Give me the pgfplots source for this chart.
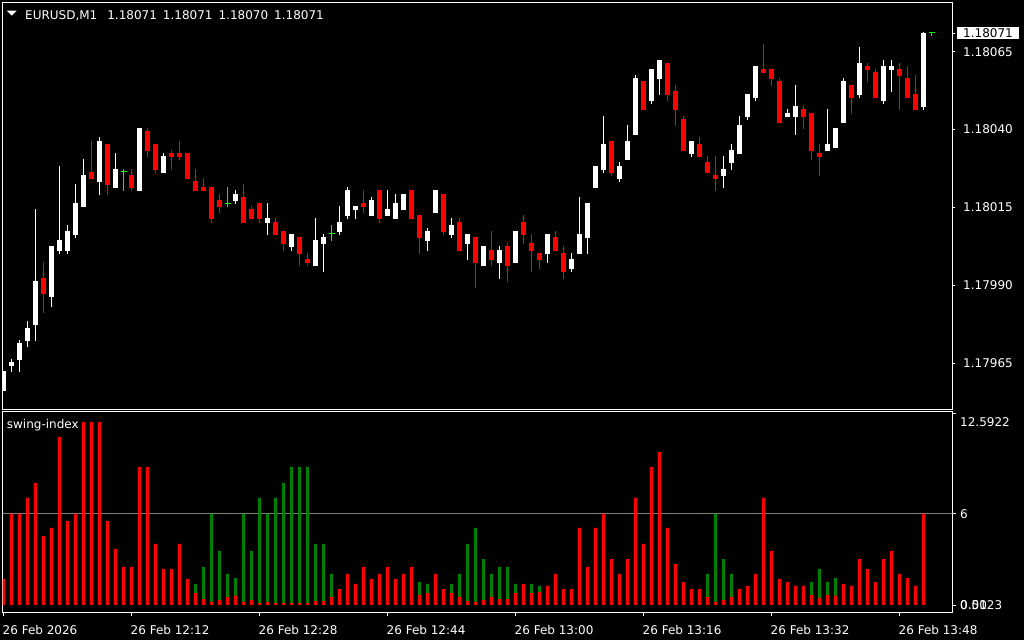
\documentclass[border=0pt]{standalone}
\usepackage{pgfplots}
\pgfplotsset{compat=1.18}
\usepackage{xfp}
\usepackage{fontspec}
\setmainfont{DejaVu Sans}
\definecolor{mtred}{RGB}{255,0,0}
\definecolor{mtgreen}{RGB}{0,128,0}
\definecolor{mtlime}{RGB}{0,255,0}
\definecolor{mtgrey}{RGB}{128,128,128}
\newcommand\mtfont{\fontsize{12pt}{14.4pt}\selectfont}
% exact decimal transformation of prices (1.18xxxx) to points above 1.18
\ExplSyntaxOn
\tl_new:N \l_mt_tl
\cs_new_protected:Npn \mttrafo #1
  {
    \tl_set:Nx \l_mt_tl {#1}
    \str_if_in:NnT \l_mt_tl {Y}
      {
        \exp_args:NV \pgfmathfloattosci \l_mt_tl
        \tl_set_eq:NN \l_mt_tl \pgfmathresult
      }
    \str_if_in:NnTF \l_mt_tl {n}
      { \tl_set:Nn \pgfmathresult {nan} }
      { \tl_set:Nx \pgfmathresult { \fp_eval:n { ( \l_mt_tl - 1.18 ) * 100000 } } }
  }
\ExplSyntaxOff
\begin{document}
\begin{tikzpicture}[font=\mtfont]
\fill[black] (0pt,0pt) rectangle (1024pt,640pt);
\useasboundingbox (0pt,0pt) rectangle (1024pt,640pt);
% ---------------- price panel ----------------
\begin{axis}[
  at={(2.7pt,230.7pt)}, anchor=south west, scale only axis,
  width=949.6pt, height=406.6pt,
  xmin=-0.1, xmax=118.6,
  y coord trafo/.code={\mttrafo{#1}},
  ymin=1.1795024, ymax=1.1808072,
  axis line style={white, line width=0.8pt},
  xtick=\empty,
  ytick={1.17965,1.1799,1.18015,1.1804,1.18065},
  yticklabels={1.17965,1.17990,1.18015,1.18040,1.18065},
  ytick pos=right, yticklabel pos=right,
  tick align=outside, major tick length=3pt,
  tick style={white, line width=0.8pt},
  yticklabel style={text=white, anchor=west, inner sep=0pt, xshift=7.7pt},
  extra y ticks={1.18071}, extra y tick labels={1.18071},
  extra y tick style={yticklabel style={fill=white, text=black, inner xsep=6pt, inner ysep=1pt, xshift=-6pt}},
  unbounded coords=jump,
]
% bullish wicks
\addplot[white, line width=1pt] coordinates {
(0,1.179561)(0,1.179625)(0,nan)(1,1.179622)(1,1.179664)(1,nan)(2,1.179622)(2,1.179725)(2,nan)
(3,1.179702)(3,1.179786)(3,nan)(4,1.179722)(4,1.180145)(4,nan)(6,1.179831)(6,1.180026)(6,nan)
(7,1.180001)(7,1.180283)(7,nan)(8,1.180001)(8,1.180094)(8,nan)(9,1.180052)(9,1.180225)(9,nan)
(10,1.180152)(10,1.180306)(10,nan)(12,1.180190)(12,1.180376)(12,nan)(14,1.180213)(14,1.180325)(14,nan)
(17,1.180203)(17,1.180405)(17,nan)(20,1.180261)(20,1.180325)(20,nan)(29,1.180161)(29,1.180206)(29,nan)
(33,1.180062)(33,1.180164)(33,nan)(36,1.180010)(36,1.180065)(36,nan)(39,1.179962)(39,1.180116)(39,nan)
(40,1.179943)(40,1.180065)(40,nan)(42,1.180062)(42,1.180155)(42,nan)(43,1.180113)(43,1.180216)(43,nan)
(44,1.180113)(44,1.180155)(44,nan)(46,1.180123)(46,1.180184)(46,nan)(48,1.180123)(48,1.180206)(48,nan)
(49,1.180113)(49,1.180193)(49,nan)(50,1.180142)(50,1.180193)(50,nan)(53,1.180010)(53,1.180084)(53,nan)
(54,1.180132)(54,1.180206)(54,nan)(56,1.180052)(56,1.180116)(56,nan)(58,1.179981)(58,1.180065)(58,nan)
(60,1.179962)(60,1.180026)(60,nan)(62,1.179920)(62,1.180026)(62,nan)(64,1.179972)(64,1.180075)(64,nan)
(68,1.179972)(68,1.180065)(68,nan)(71,1.179943)(71,1.180004)(71,nan)(72,1.180001)(72,1.180184)(72,nan)
(73,1.180001)(73,1.180164)(73,nan)(74,1.180213)(74,1.180283)(74,nan)(75,1.180261)(75,1.180444)(75,nan)
(77,1.180232)(77,1.180296)(77,nan)(78,1.180302)(78,1.180415)(78,nan)(79,1.180383)(79,1.180575)(79,nan)
(81,1.180482)(81,1.180595)(81,nan)(82,1.180511)(82,1.180623)(82,nan)(86,1.180312)(86,1.180363)(86,nan)
(90,1.180213)(90,1.180315)(90,nan)(91,1.180270)(91,1.180354)(91,nan)(92,1.180322)(92,1.180444)(92,nan)
(93,1.180431)(93,1.180514)(93,nan)(94,1.180492)(94,1.180604)(94,nan)(98,1.180440)(98,1.180466)(98,nan)
(99,1.180383)(99,1.180543)(99,nan)(103,1.180331)(103,1.180466)(103,nan)(104,1.180341)(104,1.180405)(104,nan)
(105,1.180421)(105,1.180566)(105,nan)(107,1.180501)(107,1.180665)(107,nan)(110,1.180482)(110,1.180623)(110,nan)
(111,1.180521)(111,1.180623)(111,nan)(115,1.180463)(115,1.180713)
};
% bearish wicks
\addplot[mtred, line width=1pt] coordinates {
(5,1.179811)(5,1.179975)(5,nan)(11,1.180242)(11,1.180363)(11,nan)(13,1.180190)(13,1.180354)(13,nan)
(16,1.180203)(16,1.180274)(16,nan)(18,1.180312)(18,1.180405)(18,nan)(19,1.180261)(19,1.180354)(19,nan)
(21,1.180270)(21,1.180335)(21,nan)(22,1.180302)(22,1.180363)(22,nan)(23,1.180242)(23,1.180325)(23,nan)
(24,1.180203)(24,1.180274)(24,nan)(25,1.180203)(25,1.180245)(25,nan)(26,1.180100)(26,1.180216)(26,nan)
(27,1.180132)(27,1.180193)(27,nan)(30,1.180100)(30,1.180225)(30,nan)(31,1.180113)(31,1.180155)(31,nan)
(32,1.180100)(32,1.180164)(32,nan)(34,1.180062)(34,1.180116)(34,nan)(35,1.180010)(35,1.180075)(35,nan)
(37,1.179962)(37,1.180055)(37,nan)(38,1.179962)(38,1.180004)(38,nan)(45,1.180132)(45,1.180206)(45,nan)
(47,1.180100)(47,1.180206)(47,nan)(51,1.180113)(51,1.180206)(51,nan)(52,1.180001)(52,1.180126)(52,nan)
(55,1.180062)(55,1.180193)(55,nan)(57,1.180010)(57,1.180116)(57,nan)(59,1.179892)(59,1.180055)(59,nan)
(61,1.179962)(61,1.180075)(61,nan)(63,1.179911)(63,1.180036)(63,nan)(65,1.180033)(65,1.180126)(65,nan)
(66,1.179943)(66,1.180065)(66,nan)(67,1.179953)(67,1.180004)(67,nan)(69,1.180010)(69,1.180075)(69,nan)
(70,1.179920)(70,1.180026)(70,nan)(76,1.180251)(76,1.180363)(76,nan)(80,1.180463)(80,1.180556)(80,nan)
(83,1.180492)(83,1.180614)(83,nan)(84,1.180412)(84,1.180543)(84,nan)(85,1.180331)(85,1.180444)(85,nan)
(87,1.180312)(87,1.180376)(87,nan)(88,1.180261)(88,1.180315)(88,nan)(89,1.180203)(89,1.180315)(89,nan)
(95,1.180582)(95,1.180675)(95,nan)(96,1.180540)(96,1.180595)(96,nan)(97,1.180421)(97,1.180566)(97,nan)
(100,1.180402)(100,1.180476)(100,nan)(101,1.180302)(101,1.180453)(101,nan)(102,1.180251)(102,1.180354)(102,nan)
(106,1.180450)(106,1.180543)(106,nan)(108,1.180553)(108,1.180614)(108,nan)(109,1.180501)(109,1.180595)(109,nan)
(112,1.180463)(112,1.180614)(112,nan)(113,1.180501)(113,1.180604)(113,nan)(114,1.180463)(114,1.180575)
};
% bullish bodies (open -> close)
\addplot[white, line width=5pt] coordinates {
(0,1.179561)(0,1.179625)(0,nan)(1,1.179641)(1,1.179654)(1,nan)(2,1.179661)(2,1.179715)(2,nan)
(3,1.179722)(3,1.179763)(3,nan)(4,1.179773)(4,1.179914)(4,nan)(6,1.179863)(6,1.180026)(6,nan)
(7,1.180010)(7,1.180046)(7,nan)(8,1.180010)(8,1.180075)(8,nan)(9,1.180062)(9,1.180164)(9,nan)
(10,1.180152)(10,1.180254)(10,nan)(12,1.180232)(12,1.180363)(12,nan)(14,1.180213)(14,1.180274)(14,nan)
(17,1.180203)(17,1.180405)(17,nan)(20,1.180261)(20,1.180315)(20,nan)(29,1.180171)(29,1.180193)(29,nan)
(33,1.180100)(33,1.180116)(33,nan)(36,1.180023)(36,1.180065)(36,nan)(39,1.179962)(39,1.180046)(39,nan)
(40,1.180033)(40,1.180055)(40,nan)(42,1.180071)(42,1.180104)(42,nan)(43,1.180123)(43,1.180206)(43,nan)
(44,1.180142)(44,1.180155)(44,nan)(46,1.180123)(46,1.180174)(46,nan)(48,1.180123)(48,1.180145)(48,nan)
(49,1.180113)(49,1.180164)(49,nan)(50,1.180142)(50,1.180193)(50,nan)(53,1.180043)(53,1.180075)(53,nan)
(54,1.180132)(54,1.180206)(54,nan)(56,1.180062)(56,1.180094)(56,nan)(58,1.180033)(58,1.180065)(58,nan)
(60,1.179962)(60,1.180026)(60,nan)(62,1.179972)(62,1.180014)(62,nan)(64,1.179972)(64,1.180075)(64,nan)
(68,1.180001)(68,1.180065)(68,nan)(71,1.179953)(71,1.179985)(71,nan)(72,1.180001)(72,1.180065)(72,nan)
(73,1.180052)(73,1.180164)(73,nan)(74,1.180213)(74,1.180283)(74,nan)(75,1.180270)(75,1.180354)(75,nan)
(77,1.180242)(77,1.180283)(77,nan)(78,1.180302)(78,1.180363)(78,nan)(79,1.180383)(79,1.180566)(79,nan)
(81,1.180492)(81,1.180595)(81,nan)(82,1.180562)(82,1.180623)(82,nan)(86,1.180322)(86,1.180363)(86,nan)
(90,1.180251)(90,1.180274)(90,nan)(91,1.180293)(91,1.180335)(91,nan)(92,1.180322)(92,1.180415)(92,nan)
(93,1.180440)(93,1.180514)(93,nan)(94,1.180501)(94,1.180604)(94,nan)(98,1.180440)(98,1.180453)(98,nan)
(99,1.180440)(99,1.180476)(99,nan)(103,1.180331)(103,1.180354)(103,nan)(104,1.180341)(104,1.180405)(104,nan)
(105,1.180421)(105,1.180556)(105,nan)(107,1.180511)(107,1.180614)(107,nan)(110,1.180492)(110,1.180604)(110,nan)
(111,1.180591)(111,1.180604)(111,nan)(115,1.180473)(115,1.180710)
};
% bearish bodies (open -> close)
\addplot[mtred, line width=5pt] coordinates {
(5,1.179924)(5,1.179872)(5,nan)(11,1.180264)(11,1.180242)(11,nan)(13,1.180354)(13,1.180222)(13,nan)
(16,1.180254)(16,1.180213)(16,nan)(18,1.180396)(18,1.180331)(18,nan)(19,1.180354)(19,1.180270)(19,nan)
(21,1.180325)(21,1.180312)(21,nan)(22,1.180325)(22,1.180312)(22,nan)(23,1.180325)(23,1.180242)(23,nan)
(24,1.180235)(24,1.180203)(24,nan)(25,1.180216)(25,1.180203)(25,nan)(26,1.180216)(26,1.180113)(26,nan)
(27,1.180174)(27,1.180152)(27,nan)(30,1.180184)(30,1.180100)(30,nan)(31,1.180145)(31,1.180113)(31,nan)
(32,1.180164)(32,1.180113)(32,nan)(34,1.180104)(34,1.180062)(34,nan)(35,1.180075)(35,1.180033)(35,nan)
(37,1.180055)(37,1.180001)(37,nan)(38,1.179985)(38,1.179972)(38,nan)(45,1.180164)(45,1.180152)(45,nan)
(47,1.180206)(47,1.180113)(47,nan)(51,1.180206)(51,1.180113)(51,nan)(52,1.180126)(52,1.180052)(52,nan)
(55,1.180193)(55,1.180071)(55,nan)(57,1.180104)(57,1.180010)(57,nan)(59,1.180055)(59,1.179972)(59,nan)
(61,1.180014)(61,1.179981)(61,nan)(63,1.180026)(63,1.179962)(63,nan)(65,1.180104)(65,1.180062)(65,nan)
(66,1.180036)(66,1.180010)(66,nan)(67,1.180004)(67,1.179981)(67,nan)(69,1.180055)(69,1.180010)(69,nan)
(70,1.180004)(70,1.179943)(70,nan)(76,1.180363)(76,1.180261)(76,nan)(80,1.180556)(80,1.180463)(80,nan)
(83,1.180614)(83,1.180511)(83,nan)(84,1.180524)(84,1.180463)(84,nan)(85,1.180434)(85,1.180331)(85,nan)
(87,1.180354)(87,1.180312)(87,nan)(88,1.180296)(88,1.180261)(88,nan)(89,1.180254)(89,1.180242)(89,nan)
(95,1.180595)(95,1.180582)(95,nan)(96,1.180595)(96,1.180562)(96,nan)(97,1.180556)(97,1.180421)(97,nan)
(100,1.180466)(100,1.180440)(100,nan)(101,1.180453)(101,1.180331)(101,nan)(102,1.180325)(102,1.180312)(102,nan)
(106,1.180543)(106,1.180501)(106,nan)(108,1.180604)(108,1.180591)(108,nan)(109,1.180585)(109,1.180501)(109,nan)
(112,1.180595)(112,1.180572)(112,nan)(113,1.180566)(113,1.180501)(113,nan)(114,1.180514)(114,1.180463)
};
% doji wicks
\addplot[mtlime, line width=1pt] coordinates {
(15,1.180203)(15,1.180274)(15,nan)(28,1.180152)(28,1.180216)(28,nan)
(41,1.180043)(41,1.180094)(41,nan)(116,1.180700)(116,1.180710)
};
% doji open = close
\addplot[only marks, mark=-, mark size=3pt, mark options={mtlime, line width=1pt}] coordinates {
(15,1.180264)(28,1.180164)(41,1.180065)(116,1.180710)
};
\end{axis}
% ---------------- swing index panel ----------------
\begin{axis}[
  at={(2.7pt,27.7pt)}, anchor=south west, scale only axis,
  width=949.6pt, height=200.6pt,
  xmin=-0.1, xmax=118.6, ymin=-0.48, ymax=12.70,
  axis line style={white, line width=0.8pt},
  xtick={0,16,32,48,64,80,96,112},
  xticklabels={26 Feb 2026,26 Feb 12:12,26 Feb 12:28,26 Feb 12:44,26 Feb 13:00,26 Feb 13:16,26 Feb 13:32,26 Feb 13:48},
  xtick pos=bottom,
  ytick={0,6}, yticklabels={{\rlap{0.00}0.5123},6},
  ytick pos=right, yticklabel pos=right,
  extra y ticks={12.5922}, extra y tick labels={12.5922},
  extra y tick style={yticklabel style={yshift=-9pt}},
  tick align=outside, major tick length=4pt,
  tick style={white, line width=0.8pt},
  yticklabel style={text=white, anchor=west, inner sep=0pt, xshift=3.7pt},
  xticklabel style={text=white, anchor=base west, inner sep=0pt, xshift=-1pt, yshift=-18.4pt},
]
\addplot[mtgrey, line width=1pt] coordinates {(-1,6) (120,6)};
\addplot[ybar, bar width=3pt, bar shift=0pt, fill=mtgreen, draw=none] coordinates {
(24,1.38)(25,2.50)(26,6.0)(27,3.55)(28,2.04)(29,1.77)(30,6.0)(31,3.55)(32,7.03)(33,6.0)(34,7.03)(35,8.02)
(36,9.07)(37,9.07)(38,9.07)(39,4.01)(40,4.01)(41,2.04)(52,1.51)(53,1.38)(56,1.38)(57,2.04)(58,4.01)
(59,5.06)(60,3.02)(61,2.04)(62,2.50)(63,2.50)(64,1.38)(66,1.38)(67,1.25)(88,2.04)(89,6.0)(90,3.02)
(91,2.04)(101,1.51)(102,2.37)(103,1.51)(104,1.77)
};
\addplot[ybar, bar width=3pt, bar shift=0pt, fill=mtred, draw=none] coordinates {
(0,1.71)(1,6.0)(2,6.0)(3,7.03)(4,8.02)(5,4.53)(6,5.06)(7,11.04)(8,5.52)(9,6.0)(10,12.02)(11,12.02)
(12,12.02)(13,5.52)(14,3.68)(15,2.50)(16,2.50)(17,9.07)(18,9.07)(19,4.01)(20,2.37)(21,2.37)(22,4.01)
(23,1.71)(24,0.79)(25,0.39)(26,0.20)(27,0.33)(28,0.53)(29,0.61)(30,0.20)(31,0.33)(32,0.13)(33,0.20)
(34,0.13)(35,0.13)(36,0.13)(37,0.13)(38,0.13)(39,0.26)(40,0.26)(41,0.53)(42,1.05)(43,2.04)(44,1.38)
(45,2.50)(46,1.71)(47,2.04)(48,2.50)(49,1.71)(50,2.04)(51,2.50)(52,0.66)(53,0.79)(54,2.04)(55,1.05)
(56,0.79)(57,0.53)(58,0.26)(59,0.20)(60,0.33)(61,0.53)(62,0.39)(63,0.39)(64,0.79)(65,1.38)(66,0.79)
(67,0.85)(68,1.25)(69,2.04)(70,1.05)(71,1.05)(72,5.06)(73,2.50)(74,5.06)(75,6.0)(76,3.02)(77,2.04)
(78,3.02)(79,7.03)(80,4.01)(81,9.07)(82,10.05)(83,5.06)(84,2.69)(85,1.51)(86,1.05)(87,1.05)(88,0.53)
(89,0.20)(90,0.33)(91,0.53)(92,1.05)(93,1.25)(94,2.04)(95,7.03)(96,3.55)(97,1.71)(98,1.51)(99,1.25)
(100,1.25)(101,0.66)(102,0.46)(103,0.66)(104,0.61)(105,1.38)(106,1.25)(107,3.02)(108,2.37)(109,1.51)
(110,3.02)(111,3.55)(112,2.04)(113,1.77)(114,1.25)(115,6.0)
};
\end{axis}
% header texts
\fill[white] (6.7pt,629.3pt) -- (16.7pt,629.3pt) -- (11.7pt,624.3pt) -- cycle;
\node[anchor=base west, inner sep=0pt, text=white] at (25pt,620.7pt)
  {EURUSD,M1\hspace{10pt}1.18071\hspace{6pt}1.18071\hspace{6pt}1.18070\hspace{6pt}1.18071};
\node[anchor=base west, inner sep=0pt, text=white] at (6.7pt,211.7pt) {swing-index};
\end{tikzpicture}
\end{document}
